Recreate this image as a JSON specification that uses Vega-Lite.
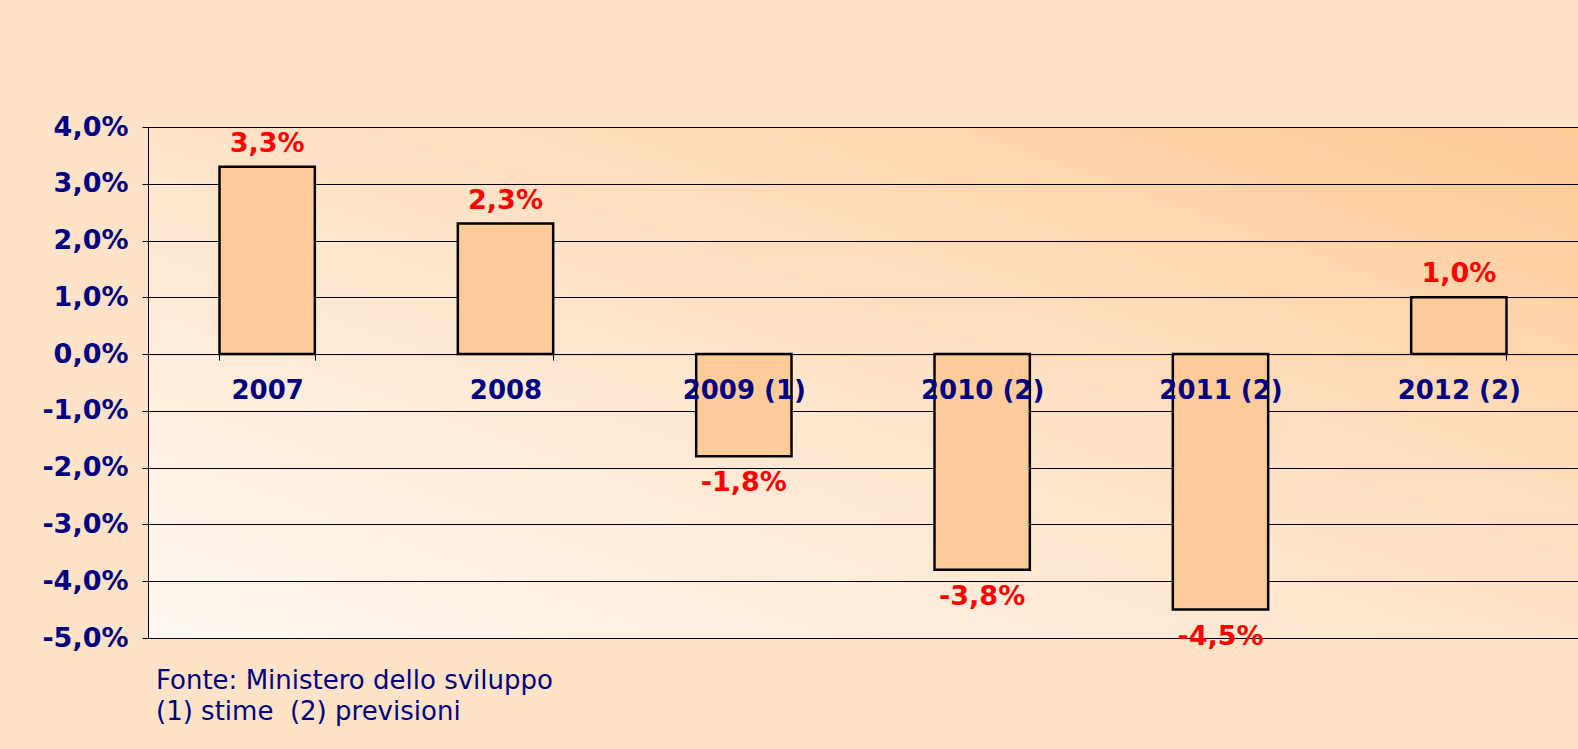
{
  "$schema": "https://vega.github.io/schema/vega-lite/v6.json",
  "width": 1430,
  "height": 511,
  "autosize": {"type": "none"},
  "padding": {"left": 148, "top": 127, "right": 0, "bottom": 111},
  "background": "#FFE3C8",
  "data": {
    "values": [
      {"anno": "2007", "v": 0.033},
      {"anno": "2008", "v": 0.023},
      {"anno": "2009 (1)", "v": -0.018},
      {"anno": "2010 (2)", "v": -0.038},
      {"anno": "2011 (2)", "v": -0.045},
      {"anno": "2012 (2)", "v": 0.010}
    ]
  },
  "title": {
    "text": ["Fonte: Ministero dello sviluppo", "(1) stime\u00a0 (2) previsioni"],
    "orient": "bottom",
    "anchor": "start",
    "frame": "group",
    "font": "DejaVu Sans",
    "fontSize": 26,
    "fontWeight": "normal",
    "color": "#000080",
    "lineHeight": 31,
    "dx": 8,
    "offset": 17
  },
  "encoding": {
    "x": {
      "field": "anno",
      "type": "nominal",
      "sort": null,
      "scale": {"paddingInner": 0.6, "paddingOuter": 0.3},
      "axis": {
        "title": null,
        "labelAngle": 0,
        "offset": -283.9,
        "zindex": 1,
        "domainColor": "black",
        "domainWidth": 1,
        "tickColor": "black",
        "tickWidth": 1,
        "tickSize": 6,
        "tickBand": "extent",
        "labelPadding": 17,
        "labelFont": "DejaVu Sans",
        "labelFontWeight": "bold",
        "labelFontSize": 26,
        "labelColor": "#000080",
        "grid": false
      }
    },
    "y": {
      "field": "v",
      "type": "quantitative",
      "scale": {"domain": [-0.05, 0.04], "nice": false},
      "axis": {
        "title": null,
        "values": [-0.05, -0.04, -0.03, -0.02, -0.01, 0, 0.01, 0.02, 0.03, 0.04],
        "format": ".1%",
        "grid": true,
        "gridColor": "black",
        "gridOpacity": 1,
        "gridWidth": 1,
        "domainColor": "black",
        "domainWidth": 1,
        "tickColor": "black",
        "tickWidth": 1,
        "tickSize": 6,
        "labelPadding": 14,
        "labelFont": "DejaVu Sans",
        "labelFontWeight": "bold",
        "labelFontSize": 27,
        "labelColor": "#000080"
      }
    }
  },
  "layer": [
    {
      "mark": {"type": "bar", "fill": "#FFCC99", "stroke": "black", "strokeWidth": 2.5}
    },
    {
      "transform": [{"filter": "datum.v >= 0"}],
      "mark": {"type": "text", "baseline": "alphabetic", "dy": -15, "font": "DejaVu Sans", "fontWeight": "bold", "fontSize": 27, "fill": "#FF0000"},
      "encoding": {"text": {"field": "v", "type": "quantitative", "format": ".1%"}}
    },
    {
      "transform": [{"filter": "datum.v < 0"}],
      "mark": {"type": "text", "baseline": "alphabetic", "dy": 35, "font": "DejaVu Sans", "fontWeight": "bold", "fontSize": 27, "fill": "#FF0000"},
      "encoding": {"text": {"field": "v", "type": "quantitative", "format": ".1%"}}
    }
  ],
  "config": {
    "locale": {
      "number": {"decimal": ",", "thousands": ".", "grouping": [3], "currency": ["€", ""], "minus": "-"}
    },
    "view": {
      "stroke": null,
      "fill": {
        "gradient": "linear",
        "x1": 0, "y1": 1, "x2": 1, "y2": 0,
        "stops": [
          {"offset": 0, "color": "#FFF8F1"},
          {"offset": 0.5, "color": "#FFE4CA"},
          {"offset": 1, "color": "#FFCA96"}
        ]
      }
    }
  }
}
